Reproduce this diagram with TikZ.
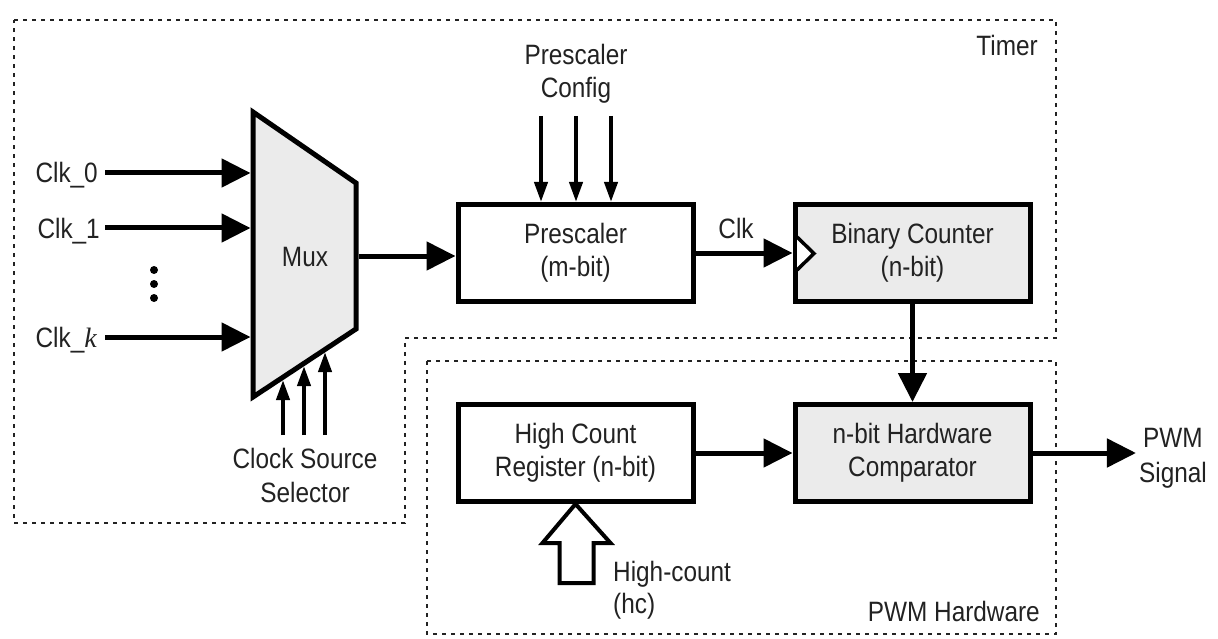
\documentclass[tikz,border=0pt]{standalone}
\usepackage{fontspec}
\setmainfont{Liberation Sans}[FakeStretch=0.87]
\newfontfamily\kfont{Liberation Serif}
\usetikzlibrary{arrows.meta,calc}
\definecolor{ink}{HTML}{222222}
\definecolor{boxgray}{HTML}{EBEBEB}
\begin{document}
\begin{tikzpicture}[x=1pt,y=-1pt,
  txt/.style={text=ink, font=\fontsize{28}{32.5}\selectfont, inner sep=0pt},
  blk/.style={txt, draw=black, line width=5pt, minimum width=235pt,
              minimum height=97pt, align=center, fill=white},
  grayblk/.style={blk, fill=boxgray},
  bigarrow/.style={line width=5pt, -{Triangle[length=29pt,width=28pt]}},
  smallarrow/.style={line width=4pt, -{Triangle[length=20pt,width=13pt]}},
  region/.style={draw=ink, line width=2.5pt, dash pattern=on 4pt off 5pt},
  hollow/.style={draw=black, fill=white, line width=4pt, line join=miter}]
\useasboundingbox (0,0) rectangle (1218,639);

% dotted outlines of the two hardware blocks
\draw[region] (14,20) -- (1056,20) -- (1056,338) -- (405,338) -- (405,523) -- (14,523) -- cycle;
\draw[region] (427,361) rectangle (1056,634);
\node[txt, anchor=base east] (timerlbl) at (1038,56) {Timer};
\node[txt, anchor=base east] (pwmlbl) at (1040,621) {PWM Hardware};

% clock multiplexer
\draw[fill=boxgray, line width=5pt, line join=miter]
  (253,112) -- (356,183) -- (356,329) -- (253,397) -- cycle;
\node[txt] (mux) at (305,257) {Mux};
\coordinate (mi0) at (250.5,173);
\coordinate (mi1) at (250.5,228);
\coordinate (mik) at (250.5,337);
\coordinate (mo) at (358.5,256);
\coordinate (mb1) at (283,380);
\coordinate (mb2) at (304,366);
\coordinate (mb3) at (325,352);

% clock inputs
\node[txt, anchor=base east] (c0) at (98,183) {Clk\_0};
\node[txt, anchor=base east] (c1) at (100,238) {Clk\_1};
\node[txt, anchor=base east] (ck) at (97,347) {Clk\_{\kfont\itshape k}};
\draw[bigarrow] ($(c0.east |- mi0)+(7,0)$) -- (mi0);
\draw[bigarrow] ($(c1.east |- mi1)+(5,0)$) -- (mi1);
\draw[bigarrow] ($(ck.east |- mik)+(8,0)$) -- (mik);
\foreach \yy in {270,284,298} \fill[black] (154,\yy) circle (4);

% source selector
\coordinate (sel1) at (283,435);
\coordinate (sel2) at (304,435);
\coordinate (sel3) at (325,435);
\draw[smallarrow] (sel1) -- (mb1);
\draw[smallarrow] (sel2) -- (mb2);
\draw[smallarrow] (sel3) -- (mb3);
\node[txt, anchor=base] (selA) at (305,468) {Clock Source};
\node[txt, anchor=base] (selB) at (305,502) {Selector};

% processing blocks
\node[blk] (presc) at (575.5,253) {Prescaler\\(m-bit)};
\node[grayblk] (bincnt) at (912.5,253) {Binary Counter\\(n-bit)};
\node[blk] (hcr) at (575.5,453) {High Count\\Register (n-bit)};
\node[grayblk] (comp) at (912.5,453) {n-bit Hardware\\Comparator};

% prescaler configuration
\node[txt, anchor=base] (cfgA) at (576,65) {Prescaler};
\node[txt, anchor=base] (cfgB) at (576,98) {Config};
\coordinate (pc1) at (541,116);
\coordinate (pc2) at (576,116);
\coordinate (pc3) at (611,116);
\draw[smallarrow] (pc1) -- (pc1 |- presc.north);
\draw[smallarrow] (pc2) -- (pc2 |- presc.north);
\draw[smallarrow] (pc3) -- (pc3 |- presc.north);

% signal flow
\draw[bigarrow] (mo) -- (presc.west |- mo);
\draw[bigarrow] (presc.east) -- (bincnt.west);
\node[txt, anchor=base] (clklbl) at (736,238) {Clk};
\draw[draw=black, fill=white, line width=3.5pt, line join=miter]
  (797,237) -- (814,253.5) -- (797,270);
\draw[bigarrow] (bincnt.south) -- (comp.north);
\draw[bigarrow] (hcr.east) -- (comp.west);
\node[txt, anchor=base] (pwmA) at (1173,447) {PWM};
\node[txt, anchor=base] (pwmB) at (1173,482) {Signal};
\draw[bigarrow] (comp.east) -- ($(comp.east -| pwmB.west)+(-3,0)$);

% high-count input (hollow bus arrow)
\draw[hollow] (hcr.south) -- ++(35,39) -- ++(-17,0) -- ++(0,40) -- ++(-34,0)
  -- ++(0,-40) -- ++(-17,0) -- cycle;
\node[txt, anchor=base west] (hcA) at (613,581) {High-count};
\node[txt, anchor=base west] (hcB) at (613,613) {(hc)};
\end{tikzpicture}
\end{document}
